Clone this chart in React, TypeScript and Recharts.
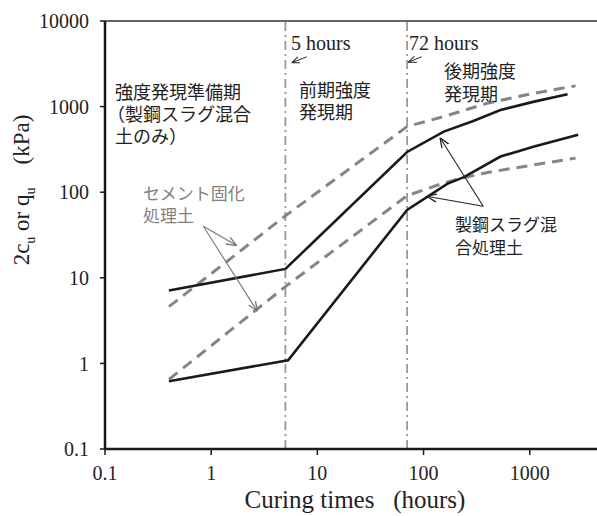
import React from "react";
import { LineChart, Line, XAxis, YAxis, ReferenceLine } from "recharts";

// ---- data (curing time in hours, strength in kPa) ----
const slagUpperT = [0.4, 5, 70, 155, 290, 530, 1100, 2270];
const slagUpperV = [7.1, 12.7, 295, 510, 675, 914, 1143, 1396];

const slagLowerT = [0.4, 5.3, 70, 167, 240, 530, 1100, 2860];
const slagLowerV = [0.62, 1.09, 62, 125, 150, 261, 341, 468];

const cementUpperT = [0.4, 5, 70, 155, 400, 1100, 2700];
const cementUpperV = [4.6, 53, 585, 764, 1097, 1432, 1746];

const cementLowerT = [0.4, 5, 70, 155, 240, 400, 1100, 2700];
const cementLowerV = [0.65, 7.9, 91, 128, 148, 170, 209, 250];

const xTicks = [0.1, 1, 10, 100, 1000];
const yTicks = [0.1, 1, 10, 100, 1000, 10000];
const phaseLines = [5, 70];

// annotation arrows: [fromT, fromV, toT, toV]
const cementArrows = [
  [0.843, 40.1, 1.74, 23.8],
  [0.843, 40.1, 2.72, 4.07],
];
const slagArrows = [
  [365, 68.5, 143, 432],
  [365, 68.5, 107, 89.8],
];
const hourArrows = [
  [7.93, 3820, 5.73, 3250],
  [95.9, 3820, 71.8, 3300],
];

const zip = (t: number[], v: number[]) => t.map((x, i) => ({ t: x, v: v[i] }));

const serif = "'Liberation Serif', 'Times New Roman', serif";
const cjk = "'Noto Sans CJK JP', sans-serif";

const block = (
  left: number,
  top: number,
  lines: React.ReactNode[],
  size: number,
  lh: number,
  color = "#222",
  font = cjk
) => (
  <div
    style={{
      position: "absolute",
      left,
      top,
      fontSize: size,
      lineHeight: `${lh}px`,
      fontFamily: font,
      color,
      whiteSpace: "nowrap",
    }}
  >
    {lines.map((l, i) => (
      <React.Fragment key={i}>
        {i > 0 && <br />}
        {l}
      </React.Fragment>
    ))}
  </div>
);

export default function App() {
  return (
    <div style={{ position: "absolute", left: 0, top: 0, width: 597, height: 516, background: "#fff" }}>
      <LineChart width={597} height={516} margin={{ top: 21, right: 0, bottom: 0, left: 0 }}>
        <defs>
          <marker id="arrGray" viewBox="0 0 10 10" refX="10" refY="5" markerWidth="10" markerHeight="10" markerUnits="userSpaceOnUse" orient="auto">
            <path d="M0,1 L10,5 L0,9" fill="none" stroke="#777" strokeWidth="1.3" />
          </marker>
          <marker id="arrBlack" viewBox="0 0 10 10" refX="10" refY="5" markerWidth="10" markerHeight="10" markerUnits="userSpaceOnUse" orient="auto">
            <path d="M0,1 L10,5 L0,9" fill="none" stroke="#222" strokeWidth="1.3" />
          </marker>
          <marker id="arrSmall" viewBox="0 0 10 10" refX="10" refY="5" markerWidth="8" markerHeight="8" markerUnits="userSpaceOnUse" orient="auto">
            <path d="M0,1 L10,5 L0,9" fill="none" stroke="#222" strokeWidth="1.3" />
          </marker>
        </defs>
        <XAxis
          dataKey="t"
          type="number"
          scale="log"
          domain={[0.1, 4300]}
          ticks={xTicks}
          allowDataOverflow
          height={67}
          axisLine={{ stroke: "#1a1a1a", strokeWidth: 2.5 }}
          tickLine={{ stroke: "#1a1a1a", strokeWidth: 1.5 }}
          tickSize={6}
          tickMargin={11}
          tick={{ fill: "#222", fontSize: 20, fontFamily: serif }}
        />
        <YAxis
          dataKey="v"
          type="number"
          scale="log"
          domain={[0.1, 10000]}
          ticks={yTicks}
          allowDataOverflow
          width={105}
          axisLine={{ stroke: "#1a1a1a", strokeWidth: 2.5 }}
          tickLine={{ stroke: "#1a1a1a", strokeWidth: 1.5 }}
          tickSize={5}
          tickMargin={11}
          tick={{ fill: "#222", fontSize: 20, fontFamily: serif }}
        />
        <ReferenceLine y={10000} stroke="#333" strokeWidth={1.5} />
        {phaseLines.map((x) => (
          <ReferenceLine key={x} x={x} stroke="#999" strokeWidth={1.8} strokeDasharray="9 4 2 4" />
        ))}
        <Line data={zip(cementUpperT, cementUpperV)} dataKey="v" stroke="#858585" strokeWidth={3} strokeDasharray="11 7" dot={false} isAnimationActive={false} />
        <Line data={zip(cementLowerT, cementLowerV)} dataKey="v" stroke="#858585" strokeWidth={3} strokeDasharray="11 7" dot={false} isAnimationActive={false} />
        <Line data={zip(slagUpperT, slagUpperV)} dataKey="v" stroke="#1a1a1a" strokeWidth={2.6} dot={false} isAnimationActive={false} />
        <Line data={zip(slagLowerT, slagLowerV)} dataKey="v" stroke="#1a1a1a" strokeWidth={2.6} dot={false} isAnimationActive={false} />
        {cementArrows.map((a, i) => (
          <ReferenceLine key={"c" + i} segment={[{ x: a[0], y: a[1] }, { x: a[2], y: a[3] }]} stroke="#777" strokeWidth={1.1} markerEnd="url(#arrGray)" />
        ))}
        {slagArrows.map((a, i) => (
          <ReferenceLine key={"s" + i} segment={[{ x: a[0], y: a[1] }, { x: a[2], y: a[3] }]} stroke="#222" strokeWidth={1.1} markerEnd="url(#arrBlack)" />
        ))}
        {hourArrows.map((a, i) => (
          <ReferenceLine key={"h" + i} segment={[{ x: a[0], y: a[1] }, { x: a[2], y: a[3] }]} stroke="#222" strokeWidth={1} markerEnd="url(#arrSmall)" />
        ))}
      </LineChart>

      {block(291, 31, ["5 hours"], 20, 24, "#222", serif)}
      {block(409, 31, ["72 hours"], 20, 24, "#222", serif)}

      {block(115, 80, [
        "強度発現準備期",
        <span style={{ marginLeft: -8 }}>（製鋼スラグ混合</span>,
        "土のみ）",
      ], 18, 22)}

      {block(299, 78, ["前期強度", "発現期"], 18, 22)}

      {block(444, 59, ["後期強度", "発現期"], 18, 23)}

      {block(143, 182, ["セメント固化", "処理土"], 17, 22, "#808080")}

      {block(455, 212, ["製鋼スラグ混", "合処理土"], 17, 23)}

      <div
        style={{
          position: "absolute",
          left: 355,
          top: 500,
          transform: "translate(-50%, -50%)",
          fontFamily: serif,
          fontSize: 25,
          color: "#222",
          whiteSpace: "pre",
        }}
      >
        {"Curing times   (hours)"}
      </div>
      <div
        style={{
          position: "absolute",
          left: 24,
          top: 190,
          transform: "translate(-50%, -50%) rotate(-90deg)",
          fontFamily: serif,
          fontSize: 23,
          color: "#222",
          whiteSpace: "pre",
        }}
      >
        2c<sub style={{ fontSize: 14 }}>u</sub> or q<sub style={{ fontSize: 14 }}>u</sub>{"    (kPa)"}
      </div>
    </div>
  );
}
